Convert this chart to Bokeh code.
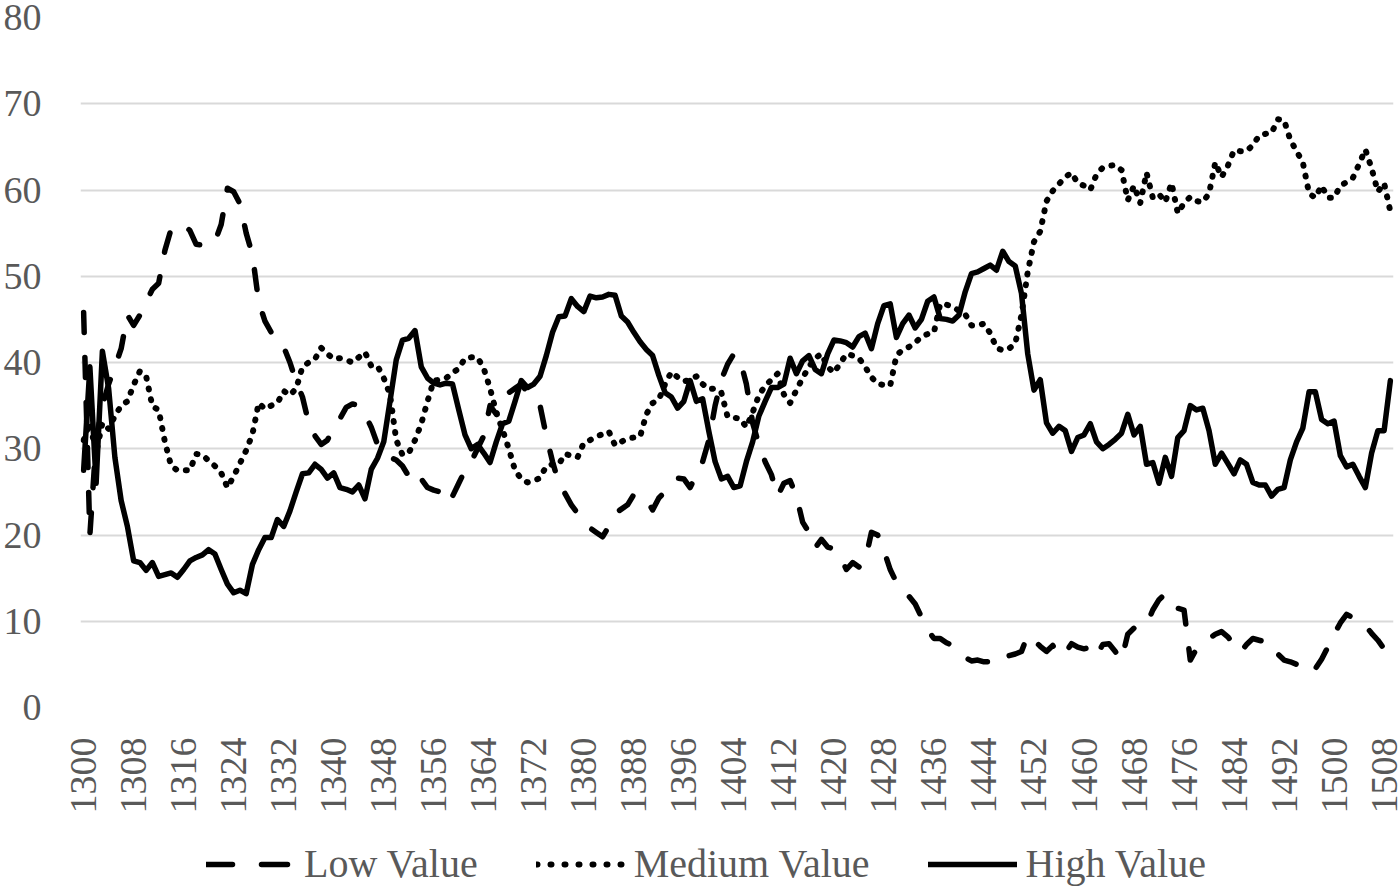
import math
from bokeh.plotting import figure
from bokeh.models import Range1d, FixedTicker, Legend, LegendItem
from bokeh.layouts import column
from bokeh.embed import file_html
from bokeh.resources import INLINE

years = list(range(1300, 1510))

low_value = [
    45.8, 20, 31, 35, 37.5, 39.5, 41.6, 45.5, 44.3, 45.5,
    47, 48.5, 49.2, 53, 55.5, 55.8, 56, 55.3, 53.7, 53.6,
    53.5, 54, 56, 60.2, 59.8, 58.4, 55, 52.5, 47, 44.8,
    43.5, 42.3, 41.8, 40, 37.8, 36, 33, 31.5, 30.5, 31,
    32.5, 33.5, 34.8, 35.2, 35, 34, 32.5, 30.5, 29.5, 29,
    28.7, 28, 26.8, 27.5, 26.5, 25.5, 25.2, 25, 25.8, 24.5,
    26, 27.5, 28.5, 30, 31.5, 35, 34, 35.8, 36.5, 37,
    37.5, 36.5, 35.5, 35, 31.5, 28.5, 26, 24.8, 23.5, 22.5,
    21.7, 20.8, 20.3, 19.8, 21, 22.5, 23, 23.5, 24.7, 24.5,
    24.2, 22.9, 24.3, 25, 26, 26.6, 26.5, 25.5, 27, 28.5,
    31, 35, 38, 39.8, 41, 40.3, 37.5, 33, 30.5, 28.5,
    27, 24.5, 26, 26.3, 24.5, 21.5, 20.3, 18.5, 19.5, 18.6,
    18.4, 17.5, 16, 16.8, 16.3, 17, 20.3, 20, 18.2, 16,
    14.5, 13.8, 12.9, 12, 10.5, 9, 8, 8, 7.5, 7.2,
    6.5, 5.8, 5.4, 5.5, 5.3, 5.3, 5.8, 6.3, 6, 6.2,
    6.5, 8.4, 7.8, 7.1, 6.5, 7.2, 6, 6.3, 7.4, 7,
    6.8, 7, 6, 7.3, 7.4, 6.5, 5.5, 8.5, 9.2, 9.5,
    9.6, 11.3, 12.5, 13.2, 12.2, 11.5, 11.3, 5.5, 6.8, 7.5,
    8, 8.5, 8.8, 8.2, 7.3, 6.4, 7.3, 8, 7.8, 7.6,
    7.5, 6.2, 5.5, 5.3, 5, 4.5, 4, 4.5, 5.6, 7,
    8.5, 9.8, 10.8, 10.4, 10.2, 9.5, 8.6, 7.8, 6.8, 5.4,
]

medium_value = [
    31, 33, 29.5, 33, 32.3, 33.8, 35, 35.5, 37.4, 39,
    38.4, 34.9, 34.5, 30.8, 28, 27.5, 27.5, 27.5, 29.4, 29.3,
    28.6, 28, 27.2, 25.5, 26.8, 28.3, 29.8, 31.7, 35.3, 34.6,
    35, 35.3, 36.7, 36.2, 37, 39.5, 40, 40.4, 41.7, 41,
    40.4, 40.5, 40.3, 40, 40.6, 41.2, 39.6, 39.6, 38.2, 36.3,
    31, 29.3, 29.5, 31, 32.9, 35.5, 37.9, 38, 38.2, 38.8,
    39.3, 40.5, 40.6, 40.6, 39.3, 37, 34.2, 32.2, 30, 27.5,
    26.5, 26.1, 26.3, 26.6, 28, 28.2, 28.2, 29.4, 29.2, 29,
    30.7, 31, 31.4, 31.7, 32, 30.4, 30.8, 31.2, 31.3, 31.4,
    34, 35.3, 35.7, 37.5, 38.9, 38.3, 37.8, 38, 38.4, 37.5,
    36.9, 37, 36.5, 33.7, 33.6, 33.5, 32.5, 34.2, 36.2, 37.3,
    38, 38.7, 36.3, 35.3, 36.8, 38.2, 39.5, 40.5, 41, 39.5,
    38.8, 39.9, 41, 40.8, 40.5, 39.5, 38.3, 37.5, 37.4, 37.3,
    40.8, 41.5, 41.8, 42.3, 43, 43.3, 43.5, 46.8, 46.7, 46.5,
    46, 45.6, 44.3, 44.3, 44.5, 43.4, 41.7, 41.4, 41.6, 42.2,
    45.5, 50.5, 54, 55.2, 58.7, 59.9, 60.7, 61.5, 62, 60.8,
    60.5, 60, 61.8, 62.6, 62.8, 62.9, 62.3, 58.8, 60.5, 58.5,
    62, 59.1, 59.5, 58.6, 60.8, 57.3, 58.5, 59.2, 58.7, 58.6,
    59.6, 63.2, 61.5, 62.8, 64.6, 64.5, 64.5, 65.2, 66.3, 66.5,
    66.6, 68.2, 68.1, 65.8, 64.5, 63.2, 59.6, 59.1, 60.5, 59.1,
    59.1, 60.5, 60.9, 61.4, 63, 64.7, 62.5, 59.8, 60.8, 57.5,
]

high_value = [
    27.5, 39.5, 26, 41.3, 37, 29, 24, 21, 17, 16.8,
    15.9, 16.8, 15.2, 15.4, 15.6, 15.1, 16, 17, 17.4, 17.7,
    18.3, 17.8, 16, 14.3, 13.3, 13.6, 13.2, 16.6, 18.3, 19.7,
    19.7, 21.8, 21, 22.8, 25, 27.1, 27.2, 28.2, 27.6, 26.6,
    27.2, 25.5, 25.3, 25, 25.8, 24.2, 27.6, 28.9, 30.8, 35.5,
    40.3, 42.6, 42.8, 43.7, 39.5, 38.2, 37.6, 37.4, 37.6, 37.5,
    34.5, 31.6, 30, 30.5, 29.5, 28.4, 30.8, 32.9, 33.2, 35.5,
    37.9, 37.1, 37.5, 38.4, 40.8, 43.5, 45.3, 45.4, 47.4, 46.5,
    45.9, 47.7, 47.5, 47.6, 47.9, 47.8, 45.4, 44.7, 43.5, 42.4,
    41.5, 40.8, 38.5, 36.5, 36, 34.7, 35.5, 37.9, 35.5, 35.8,
    32, 28.5, 26.5, 26.8, 25.5, 25.7, 28.5, 30.8, 33.8, 35.5,
    37.1, 37.1, 37.5, 40.5, 38.7, 40.2, 40.8, 39.2, 38.7, 41,
    42.6, 42.5, 42.3, 41.8, 43, 43.4, 41.6, 44.5, 46.6, 46.8,
    42.9, 44.5, 45.5, 44, 45, 47.1, 47.6, 45.1, 45, 44.8,
    45.5, 48.2, 50.3, 50.5, 50.9, 51.3, 50.7, 52.9, 51.7, 51.2,
    48, 41, 36.8, 38, 33, 31.8, 32.6, 32.1, 29.7, 31.3,
    31.6, 32.9, 30.8, 30, 30.5, 31.1, 31.8, 34, 31.6, 32.6,
    28.2, 28.4, 26, 29, 26.8, 31.3, 32.1, 35, 34.5, 34.7,
    32.1, 28.2, 29.5, 28.3, 27.1, 28.7, 28.2, 26.1, 25.8, 25.8,
    24.5, 25.3, 25.5, 28.7, 30.8, 32.4, 36.6, 36.6, 33.4, 32.9,
    33.2, 29.2, 27.9, 28.2, 26.8, 25.5, 29.5, 32.1, 32.1, 37.9,
]

x_ticks = list(range(1300, 1509, 8))
y_ticks = list(range(0, 81, 10))
series_labels = ["Low Value", "Medium Value", "High Value"]

FONT = "Liberation Serif"
TEXT = "#595959"

# ---------------- main chart ----------------
p = figure(width=1400, height=842, output_backend="svg", toolbar_location=None,
           x_range=Range1d(1299.5, 1509.5), y_range=Range1d(0, 80),
           min_border_left=77, min_border_right=7, min_border_top=17,
           min_border_bottom=135)
p.outline_line_color = None
p.background_fill_color = "white"
p.border_fill_color = "white"

p.xgrid.visible = False
p.ygrid.ticker = FixedTicker(ticks=y_ticks)
p.ygrid.grid_line_color = "#d9d9d9"
p.ygrid.grid_line_width = 2

p.xaxis.ticker = FixedTicker(ticks=x_ticks)
p.yaxis.ticker = FixedTicker(ticks=y_ticks)
for ax in (p.xaxis, p.yaxis):
    ax.axis_line_color = None
    ax.major_tick_line_color = None
    ax.minor_tick_line_color = None
    ax.major_label_text_font = FONT
    ax.major_label_text_font_size = "38px"
    ax.major_label_text_color = TEXT
p.xaxis.major_label_orientation = math.pi / 2
p.xaxis.major_label_standoff = 24
p.yaxis.major_label_standoff = 33

p.line(years, low_value, line_color="black", line_width=5.5,
       line_dash="20 25", line_cap="round", line_join="round")
p.line(years, medium_value, line_color="black", line_width=6,
       line_dash="1 10", line_cap="round", line_join="round")
p.line(years, high_value, line_color="black", line_width=5.5,
       line_cap="round", line_join="round")

# ---------------- legend strip ----------------
leg = figure(width=1400, height=47, output_backend="svg", toolbar_location=None,
             x_range=Range1d(0, 1), y_range=Range1d(0, 1),
             x_axis_location=None, y_axis_location=None,
             min_border_left=0, min_border_right=0, min_border_top=0,
             min_border_bottom=0)
leg.grid.visible = False
leg.outline_line_color = None
leg.background_fill_color = "white"
leg.border_fill_color = "white"

# legend sample renderers: their data lie outside the strip's visible range
r_lo = leg.line([5, 6], [5, 6], line_color="black", line_width=5.5,
                line_dash="26 29", line_cap="round")
r_md = leg.line([5, 6], [5, 6], line_color="black", line_width=6,
                line_dash="1 13", line_cap="round")
r_hi = leg.line([5, 6], [5, 6], line_color="black", line_width=5.5,
                line_cap="round")

# the strip's frame is aligned with the chart frame (left edge at x = 77)
legend = Legend(items=[LegendItem(label=series_labels[0], renderers=[r_lo]),
                       LegendItem(label=series_labels[1], renderers=[r_md]),
                       LegendItem(label=series_labels[2], renderers=[r_hi])],
                orientation="horizontal", location=(126, 2), margin=0,
                glyph_width=89, glyph_height=40, label_height=40,
                label_standoff=9, spacing=58,
                padding=0, border_line_color=None, background_fill_alpha=0,
                label_text_font=FONT, label_text_font_size="40px",
                label_text_color=TEXT)
leg.add_layout(legend)

layout = column(p, leg, spacing=0)
open("out.html", "w").write(file_html(layout, INLINE))
